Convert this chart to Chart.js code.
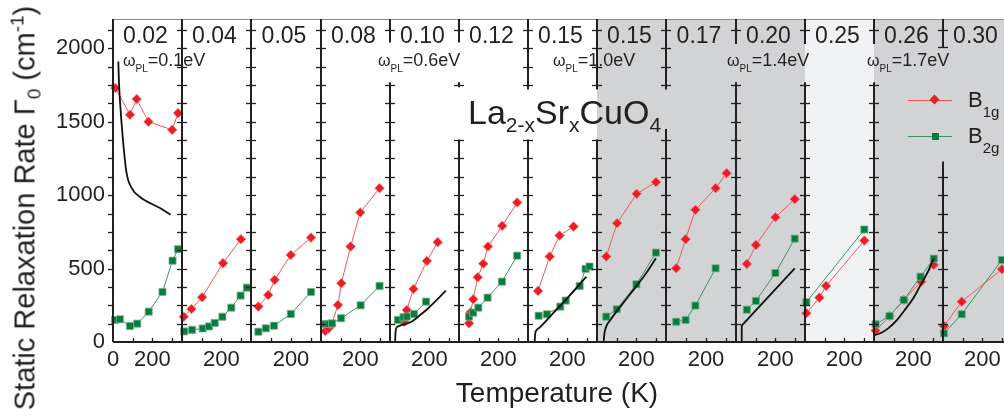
<!DOCTYPE html>
<html>
<head>
<meta charset="utf-8">
<script src="https://cdn.jsdelivr.net/npm/chart.js@4.4.1/dist/chart.umd.min.js"></script>
<style>
html, body { margin: 0; padding: 0; background: #fff; }
#wrap { position: relative; width: 1004px; height: 416px; overflow: hidden;
  font-family: "Liberation Sans", Arial, sans-serif; color: #231f20; }
#wrap canvas { position: absolute; top: 0; }
.txt { position: absolute; white-space: nowrap; line-height: 1; z-index: 5; }
.txt sub, .txt sup { line-height: 0; }
.wpl { top: 51px; font-size: 18px; }
.leg-line { position: absolute; height: 1px; z-index: 5; }
.leg-mark { position: absolute; z-index: 6; }
</style>
</head>
<body>
<div id="wrap">
  <div class="txt" style="left:25px; top:208px; font-size:29px; transform:translate(-50%,-50%) rotate(-90deg);">Static Relaxation Rate &Gamma;<sub style="font-size:19px; vertical-align:-6px;">0</sub> (cm<sup style="font-size:19px; vertical-align:11px;">-1</sup>)</div>
  <div class="txt" style="left:557px; top:379px; font-size:28px; transform:translateX(-50%);">Temperature (K)</div>
  <div class="txt" style="left:468px; top:95px; font-size:34px;">La<sub style="font-size:21px; vertical-align:-8px;">2-x</sub>Sr<sub style="font-size:21px; vertical-align:-8px;">x</sub>CuO<sub style="font-size:21px; vertical-align:-8px;">4</sub></div>

  <div class="txt wpl" style="left:123px;"><span style="font-size:16px;">&omega;</span><sub style="font-size:10px; vertical-align:-6px;">PL</sub>=0.1eV</div>
  <div class="txt wpl" style="left:378px;"><span style="font-size:16px;">&omega;</span><sub style="font-size:10px; vertical-align:-6px;">PL</sub>=0.6eV</div>
  <div class="txt wpl" style="left:553px;"><span style="font-size:16px;">&omega;</span><sub style="font-size:10px; vertical-align:-6px;">PL</sub>=1.0eV</div>
  <div class="txt wpl" style="left:727px;"><span style="font-size:16px;">&omega;</span><sub style="font-size:10px; vertical-align:-6px;">PL</sub>=1.4eV</div>
  <div class="txt wpl" style="left:867px;"><span style="font-size:16px;">&omega;</span><sub style="font-size:10px; vertical-align:-6px;">PL</sub>=1.7eV</div>

  <div class="leg-line" style="left:908px; top:100px; width:44px; background:#f0595c;"></div>
  <div class="leg-mark" style="left:931px; top:96px; width:7px; height:7px; background:#ea1d25; transform:rotate(45deg);"></div>
  <div class="txt" style="left:968px; top:89px; font-size:22px;">B<sub style="font-size:15px; vertical-align:-10px;">1g</sub></div>
  <div class="leg-line" style="left:908px; top:136px; width:44px; background:#3f9462;"></div>
  <div class="leg-mark" style="left:932px; top:133px; width:7px; height:7px; background:#0c7a3e;"></div>
  <div class="txt" style="left:968px; top:125px; font-size:22px;">B<sub style="font-size:15px; vertical-align:-10px;">2g</sub></div>
</div>
<script>
// doping x of each panel
const panelDoping = ['0.02', '0.04', '0.05', '0.08', '0.10', '0.12', '0.15', '0.15', '0.17', '0.20', '0.25', '0.26', '0.30'];
// background of each panel
const panelShade = ['', '', '', '', '', '', '', 'gray', 'gray', 'gray', 'light', 'gray', 'gray'];

// B1g: temperature (K) and static relaxation rate (cm-1)
const b1gTemp = [
  [12, 86, 120, 180, 300, 330],
  [9, 48, 102, 208, 299],
  [37, 86, 118, 199, 300],
  [22, 39, 53, 86, 103, 150, 199, 297],
  [72, 85, 119, 187, 242],
  [51, 59, 72, 95, 123, 147, 219, 295],
  [51, 110, 160, 231],
  [47, 102, 201, 299],
  [51, 98, 147, 248, 303],
  [55, 101, 200, 298],
  [7, 73, 107, 301],
  [8, 79, 151, 239, 303],
  [5, 95, 299]
];
const b1gRate = [
  [1730, 1548, 1655, 1500, 1445, 1559],
  [172, 225, 305, 537, 700],
  [241, 320, 423, 593, 711],
  [75, 93, 116, 252, 400, 650, 882, 1048],
  [138, 218, 361, 552, 680],
  [127, 203, 291, 441, 533, 650, 791, 950],
  [348, 582, 725, 786],
  [582, 809, 1009, 1089],
  [502, 700, 900, 1048, 1150],
  [532, 661, 850, 973],
  [196, 302, 382, 691],
  [77, 177, 286, 411, 525],
  [109, 275, 496]
];

// B2g
const b2gTemp = [
  [10, 35, 86, 123, 181, 251, 302, 330],
  [11, 51, 105, 137, 166, 205, 250, 297, 329],
  [37, 74, 115, 199, 300],
  [22, 39, 56, 102, 201, 297],
  [40, 68, 85, 122, 183],
  [51, 72, 98, 145, 218, 295],
  [54, 96, 164, 191, 262, 292, 312],
  [47, 100, 200, 299],
  [51, 98, 147, 248],
  [55, 101, 200, 298],
  [7, 301],
  [8, 79, 151, 236, 303],
  [5, 95, 299]
];
const b2gRate = [
  [150, 155, 109, 125, 207, 341, 554, 632],
  [72, 83, 92, 106, 130, 172, 234, 316, 370],
  [70, 93, 111, 191, 341],
  [123, 123, 127, 162, 250, 382],
  [150, 168, 173, 191, 275],
  [173, 200, 234, 302, 411, 588],
  [179, 189, 241, 282, 382, 498, 514],
  [173, 223, 393, 609],
  [138, 150, 248, 502],
  [220, 280, 470, 704],
  [271, 766],
  [121, 177, 286, 445, 568],
  [59, 189, 559]
];

// Drude rate from resistivity (black curves), null where not shown
const drudeTemp = [
  [27, 30, 35, 52, 69, 95, 137, 238, 292],
  null, null, null,
  [26, 27, 29, 35, 50, 80, 111, 150, 194, 240, 283],
  null,
  [34, 35, 37, 42, 60, 120, 190, 250, 296],
  [34, 36, 40, 48, 65, 105, 150, 198, 250, 299],
  null,
  [26, 28, 30, 298],
  null,
  [0, 40, 72, 110, 156, 200, 232, 270, 303],
  null
];
const drudeRate = [
  [1911, 1780, 1650, 1355, 1150, 1048, 988, 912, 866],
  null, null, null,
  [0, 40, 80, 100, 112, 122, 140, 180, 230, 290, 350],
  null,
  [0, 30, 60, 78, 100, 185, 285, 375, 445],
  [0, 40, 75, 110, 145, 218, 295, 377, 470, 570],
  null,
  [0, 60, 111, 502],
  null,
  [45, 65, 93, 140, 218, 300, 377, 470, 570],
  null
];
// the x = 0.20 curve is drawn as straight pieces
const drudeStraight = [9];

// axes
const tempTickLabels = [0, 200];
const tempTickMarks = [100, 200, 300];
const rateTickLabels = [0, 500, 1000, 1500, 2000];
const rateMinorStep = 125;

// visible pieces of each panel's left frame line (in cm-1), gaps leave room for the labels
const frameSegments = [
  [[0, 2200]], [[0, 2200]], [[0, 2200]], [[0, 2200]],
  [[2040, 2200], [0, 1770]],
  [[2040, 2200], [1735, 1770], [0, 1380]],
  [[1720, 2200], [0, 1380]],
  [[1720, 2200], [0, 1380]],
  [[1720, 2200], [0, 1450]],
  [[2030, 2200], [0, 1770]],
  [[2030, 2200], [0, 1770]],
  [[2030, 2200], [0, 1770]],
  [[2010, 2200], [0, 1230]]
];

const ink = '#231f20';
const fontFam = '"Liberation Sans", Arial, sans-serif';
const shadeColors = { gray: '#d1d3d4', light: '#f1f2f3' };
Chart.defaults.font.family = fontFam;
Chart.defaults.color = ink;

const panelDecor = {
  id: 'panelDecor',
  beforeDraw(chart, args, opts) {
    const a = chart.chartArea, ctx = chart.ctx;
    const fill = shadeColors[panelShade[opts.index]];
    if (fill) {
      ctx.save();
      ctx.fillStyle = fill;
      ctx.fillRect(a.left, a.top, a.right - a.left, a.bottom - a.top);
      ctx.restore();
    }
  },
  afterDraw(chart, args, opts) {
    const i = opts.index;
    const { ctx, chartArea: a } = chart;
    const xs = chart.scales.x, ys = chart.scales.y;
    ctx.save();
    // top rule
    ctx.strokeStyle = '#8c8c8c';
    ctx.lineWidth = 1;
    ctx.beginPath(); ctx.moveTo(a.left, a.top + 0.5); ctx.lineTo(a.right + 1, a.top + 0.5); ctx.stroke();
    // bottom axis
    ctx.strokeStyle = ink;
    ctx.lineWidth = 2;
    ctx.beginPath(); ctx.moveTo(a.left, a.bottom); ctx.lineTo(a.right + 1, a.bottom); ctx.stroke();
    // temperature ticks, pointing in
    ctx.lineWidth = 1.3;
    tempTickMarks.forEach(t => {
      const px = Math.round(xs.getPixelForValue(t)) + 0.5;
      ctx.beginPath(); ctx.moveTo(px, a.bottom); ctx.lineTo(px, a.bottom - 4); ctx.stroke();
    });
    // left frame line
    const segs = frameSegments[i];
    ctx.lineWidth = 2;
    segs.forEach(([lo, hi]) => {
      ctx.beginPath(); ctx.moveTo(a.left, ys.getPixelForValue(hi)); ctx.lineTo(a.left, ys.getPixelForValue(lo)); ctx.stroke();
    });
    // rate ticks across the frame line
    ctx.lineWidth = 1.3;
    for (let v = rateMinorStep; v < 2200; v += rateMinorStep) {
      if (!segs.some(([lo, hi]) => v >= lo && v <= hi)) continue;
      const py = Math.round(ys.getPixelForValue(v)) + 0.5;
      ctx.beginPath(); ctx.moveTo(a.left - 5, py); ctx.lineTo(a.left + (i === 0 ? 0 : 5), py); ctx.stroke();
    }
    if (i === 12) {
      const py = Math.round(ys.getPixelForValue(2010)) + 0.5;
      ctx.beginPath(); ctx.moveTo(a.left - 5, py); ctx.lineTo(a.left + 5, py); ctx.stroke();
    }
    // doping label
    ctx.fillStyle = ink;
    ctx.font = '23px ' + fontFam;
    ctx.textAlign = 'center';
    ctx.textBaseline = 'alphabetic';
    ctx.fillText(panelDoping[i], (a.left + a.right) / 2 - 2, 43);
    ctx.restore();
  }
};

function pairs(ts, vs) {
  return ts.map((t, k) => ({ x: t, y: vs[k] }));
}

function panel(i, host) {
  const left = Math.round(113 + i * 69.17);
  const right = Math.round(113 + (i + 1) * 69.17);
  const cv = document.createElement('canvas');
  const cLeft = i === 0 ? 0 : left - 8;
  cv.width = right + 8 - cLeft;
  cv.height = 416;
  cv.style.left = cLeft + 'px';
  host.appendChild(cv);

  const datasets = [];
  if (drudeTemp[i]) {
    datasets.push({
      data: pairs(drudeTemp[i], drudeRate[i]),
      borderColor: '#111', borderWidth: 1.8, pointRadius: 0, tension: 0,
      cubicInterpolationMode: drudeStraight.includes(i) ? 'default' : 'monotone', clip: false
    });
  }
  datasets.push({
    data: pairs(b2gTemp[i], b2gRate[i]),
    borderColor: '#3f9462', borderWidth: 1,
    pointStyle: 'rect', pointRadius: 5,
    pointBackgroundColor: '#0c7a3e', pointBorderColor: '#6bb58a', pointBorderWidth: 0.8,
    clip: false
  });
  datasets.push({
    data: pairs(b1gTemp[i], b1gRate[i]),
    borderColor: '#f0595c', borderWidth: 1,
    pointStyle: 'rectRot', pointRadius: 4.8,
    pointBackgroundColor: '#ea1d25', pointBorderColor: '#f47c80', pointBorderWidth: 0.8,
    clip: false
  });

  new Chart(cv, {
    type: 'line',
    data: { datasets },
    options: {
      responsive: false,
      animation: false,
      events: [],
      layout: { padding: { top: 19, left: i === 0 ? 0 : 8, right: 8, bottom: 0 } },
      plugins: { legend: { display: false }, tooltip: { enabled: false }, panelDecor: { index: i } },
      scales: {
        x: {
          type: 'linear', min: 0, max: 350,
          grid: { display: false, drawTicks: false },
          border: { display: false },
          afterBuildTicks: s => {
            s.ticks = tempTickLabels.filter(v => i === 0 || v !== 0).map(v => ({ value: v }));
          },
          afterFit: s => { s.height = 74; s.paddingLeft = 0; s.paddingRight = 0; },
          ticks: { autoSkip: false, maxRotation: 0, padding: 5, font: { size: 22 }, callback: v => String(v) }
        },
        y: {
          type: 'linear', min: 0, max: 2200,
          display: i === 0,
          grid: { display: false, drawTicks: false },
          border: { display: false },
          afterBuildTicks: s => { s.ticks = rateTickLabels.map(v => ({ value: v })); },
          afterFit: s => { s.width = i === 0 ? 113 : 0; s.paddingTop = 0; s.paddingBottom = 0; },
          ticks: { padding: 8, font: { size: 22 }, callback: v => String(v) }
        }
      }
    },
    plugins: [panelDecor]
  });
}

const host = document.getElementById('wrap');
for (let i = 0; i < panelDoping.length; i++) panel(i, host);
</script>
</body>
</html>
